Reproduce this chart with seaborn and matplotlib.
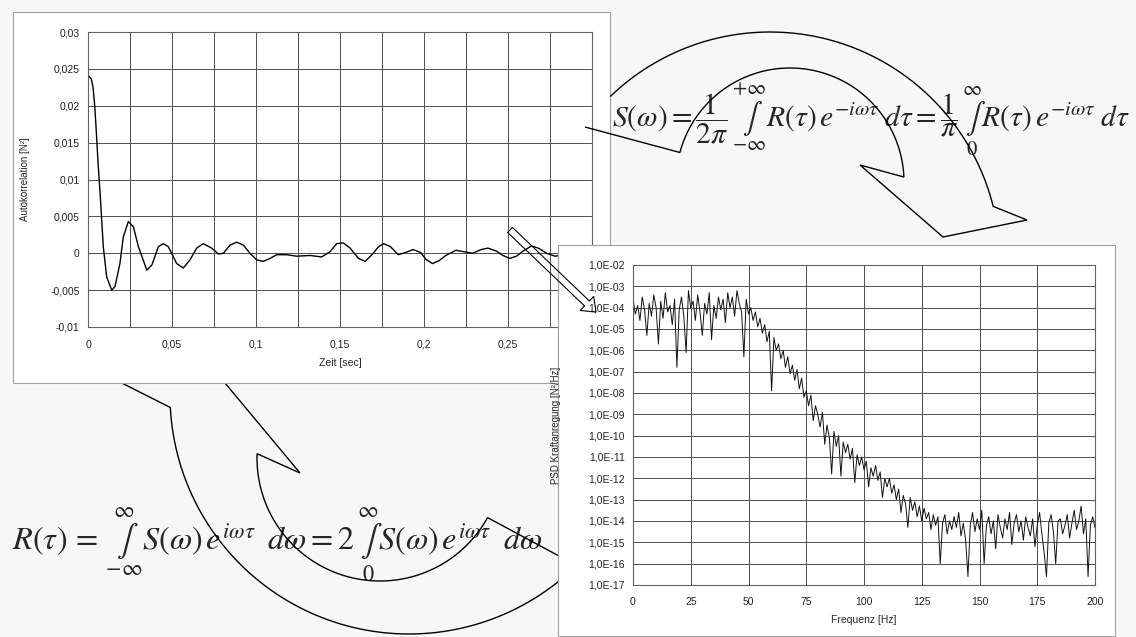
import numpy as np
import matplotlib
matplotlib.use('Agg')
import matplotlib.pyplot as plt
import seaborn as sns
from matplotlib.patches import Rectangle, Polygon, FancyArrowPatch
from matplotlib.ticker import MultipleLocator, FuncFormatter, NullLocator

# autocorrelation R(tau)
lag_sec = [0.0, 0.002, 0.003, 0.004, 0.005, 0.006, 0.0071, 0.0091, 0.0111, 0.0141,
           0.0161, 0.019, 0.021, 0.024, 0.027, 0.030, 0.035, 0.038, 0.0419, 0.0448,
           0.0478, 0.0528, 0.0567, 0.0607, 0.0647, 0.0686, 0.0736, 0.0776, 0.0806, 0.0845,
           0.0885, 0.0925, 0.0964, 0.1004, 0.1043, 0.1083, 0.1123, 0.1183, 0.1242, 0.1321,
           0.1391, 0.144, 0.148, 0.152, 0.156, 0.161, 0.165, 0.169, 0.173, 0.176,
           0.180, 0.1847, 0.189, 0.1935, 0.198, 0.201, 0.205, 0.209, 0.213, 0.219,
           0.224, 0.229, 0.234, 0.238, 0.243, 0.247, 0.251, 0.255, 0.259, 0.264,
           0.268, 0.273, 0.278, 0.283, 0.290, 0.300]
autocorr = [0.0242, 0.0236, 0.0225, 0.0200, 0.0163, 0.0122, 0.0085, 0.0009, -0.0032, -0.0050,
            -0.0045, -0.0014, 0.0022, 0.0043, 0.0036, 0.0009, -0.0023, -0.0016, 0.0009, 0.0013,
            0.0009, -0.0014, -0.0020, -0.0009, 0.0007, 0.0013, 0.0007, -0.0001, 0.0000, 0.0011,
            0.0015, 0.0011, 0.0000, -0.0009, -0.0011, -0.0007, -0.0002, -0.0002, -0.0004, -0.0003,
            -0.0005, 0.0002, 0.0013, 0.0014, 0.0007, -0.0007, -0.0011, -0.0002, 0.0009, 0.0013,
            0.0009, -0.0002, 0.0001, 0.0005, 0.0001, -0.0008, -0.0014, -0.0010, -0.0003, 0.0004,
            0.0002, 0.0000, 0.0005, 0.0007, 0.0003, -0.0003, -0.0007, -0.0004, 0.0003, 0.0010,
            0.0007, 0.0000, -0.0004, -0.0002, 0.0004, 0.0000]
lag_ticks = [0.0, 0.05, 0.1, 0.15, 0.2, 0.25]

# PSD, 1 Hz steps, stored as log10 exponents
freq_hz = list(range(0, 201))
psd_exp = [-3.6, -4.3, -3.9, -4.6, -3.5, -4.1, -5.3, -3.8, -4.4, -3.4,
           -4.0, -5.7, -3.7, -4.5, -3.3, -4.2, -3.9, -4.8, -3.6, -6.8,
           -4.1, -3.5, -4.4, -6.1, -3.2, -4.0, -3.7, -4.6, -3.4, -4.2,
           -5.3, -3.8, -4.3, -3.3, -5.5, -3.9, -4.5, -3.5, -4.1, -3.6,
           -4.7, -3.3, -4.0, -3.5, -4.4, -3.2, -3.8, -4.2, -6.3, -3.6,
           -4.3, -4.0, -4.6, -4.2, -4.9, -4.5, -5.2, -4.8, -5.6, -5.1,
           -7.9, -5.4, -6.0, -5.7, -6.4, -6.0, -6.8, -6.3, -7.1, -6.7,
           -7.4, -6.9, -7.8, -7.3, -8.2, -7.9, -8.6, -8.1, -9.3, -8.6,
           -9.0, -9.6, -8.9, -10.4, -9.5, -10.1, -11.8, -9.8, -10.5, -10.0,
           -11.9, -10.3, -10.8, -10.4, -11.1, -10.6, -12.2, -10.9, -11.4, -11.0,
           -11.6, -11.2, -12.4, -11.5, -11.9, -11.4, -12.1, -11.7, -12.9, -12.0,
           -12.4, -12.0, -12.7, -12.3, -13.0, -12.5, -13.6, -12.8, -13.2, -14.3,
           -12.9, -13.5, -13.1, -13.8, -13.3, -14.0, -13.4, -13.9, -13.6, -14.4,
           -13.7, -14.2, -13.8, -16.0, -14.1, -13.7, -14.6, -14.0, -14.4, -13.8,
           -14.3, -13.6, -14.7, -14.1, -14.9, -16.6, -14.2, -13.6, -14.5, -13.9,
           -14.4, -13.5, -16.0, -14.2, -13.8, -14.6, -14.0, -15.3, -13.7, -14.3,
           -14.8, -13.9, -14.4, -13.6, -15.1, -14.1, -13.7, -14.5, -14.0, -14.9,
           -13.8, -14.3, -14.7, -13.9, -15.2, -14.2, -13.6, -14.6, -15.5, -16.6,
           -14.1, -13.7, -14.5, -16.0, -14.0, -13.9, -14.6, -14.2, -13.7, -14.8,
           -14.1, -13.5, -14.4, -14.0, -13.3, -14.6, -13.9, -16.6, -14.2, -13.8,
           -14.3]
psd = [10.0 ** e for e in psd_exp]
psd_decades = list(range(2, 18))

W, H = 1136, 637


def fx(x):
    return x / W


def fy(y):
    return 1 - y / H


def to_fig(pts):
    return [(fx(x), fy(y)) for x, y in pts]


def arc(cx, cy, r, a0, a1, n=80):
    a = np.radians(np.linspace(a0, a1, n))
    return list(zip(cx + r * np.cos(a), cy + r * np.sin(a)))


def panel(x0, y0, x1, y1, z):
    fig.patches.append(Rectangle((fx(x0), fy(y1)), fx(x1) - fx(x0), fy(y0) - fy(y1),
                                 transform=fig.transFigure, facecolor='white',
                                 edgecolor='#a0a0a0', lw=0.8, zorder=z))


def outline(pts, z, closed=True):
    fig.patches.append(Polygon(to_fig(pts), closed=closed, fill=False, edgecolor='black',
                               lw=1.0, transform=fig.transFigure, zorder=z))


sns.set_style('white')
plt.rcParams['font.family'] = ['Liberation Sans', 'DejaVu Sans']
plt.rcParams['mathtext.fontset'] = 'stix'

fig = plt.figure(figsize=(11.36, 6.37), dpi=100, facecolor='#f7f7f7')

# big curved arrows (hollow)
bottom_arrow = (arc(409, 395, 239, 45, 177) + [(100, 372), (185, 335), (300, 473)]
                + arc(380, 458, 123, 182, 29) + [(600, 578)])
outline(bottom_arrow, 1)

top_arrow = (arc(770, 262, 230, -134, -14) + [(1027, 220), (943, 237), (860, 165)]
             + arc(790, 182, 114, -2.5, -165) + [(585, 127)])
outline(top_arrow, 3.5, closed=False)

# formulas
fig.text(fx(612), fy(120), r'$S(\omega)=\dfrac{1}{2\pi}\,\underset{-\infty}{\overset{+\infty}{\int}}'
         r'R(\tau)\,e^{-i\omega\tau}\;d\tau=\dfrac{1}{\pi}\,\underset{0}{\overset{\infty}{\int}}'
         r'R(\tau)\,e^{-i\omega\tau}\;d\tau$',
         fontsize=21.3, ha='left', va='center', zorder=0.5)
fig.text(fx(12), fy(545), r'$R(\tau)\,=\,\underset{-\infty}{\overset{\infty}{\int}}'
         r'S(\omega)\,e^{i\omega\tau}\;\;d\omega=2\,\underset{0}{\overset{\infty}{\int}}'
         r'S(\omega)\,e^{i\omega\tau}\;\;d\omega$',
         fontsize=23.2, ha='left', va='center', zorder=0.5)

# left chart: autocorrelation
panel(13, 12, 610, 383, 2)
ax1 = fig.add_axes([fx(88), fy(327), fx(592) - fx(88), fy(32) - fy(327)], zorder=3)
sns.lineplot(x=lag_sec, y=autocorr, ax=ax1, color='black', lw=1.0, estimator=None, sort=False)
ax1.set_xlim(0, 0.3)
ax1.set_ylim(-0.01, 0.03)
comma = FuncFormatter(lambda v, p: ('%g' % round(v, 6)).replace('.', ','))
ax1.set_xticks(lag_ticks)
ax1.xaxis.set_minor_locator(MultipleLocator(0.025))
ax1.yaxis.set_major_locator(MultipleLocator(0.005))
ax1.xaxis.set_major_formatter(comma)
ax1.yaxis.set_major_formatter(comma)
ax1.grid(True, which='both', axis='x', color='#505050', lw=0.7)
ax1.grid(True, which='major', axis='y', color='#505050', lw=0.7)
ax1.tick_params(axis='both', which='both', length=0, labelsize=7.5, colors='#222222')
ax1.tick_params(axis='x', pad=9)
ax1.tick_params(axis='y', pad=6)
ax1.set_xlabel('Zeit [sec]', fontsize=7.5)
ax1.set_ylabel('Autokorrelation [N²]', fontsize=7)
ax1.xaxis.set_label_coords(0.5, -0.105)
ax1.yaxis.set_label_coords(-0.115, 0.5)
for s in ax1.spines.values():
    s.set_color('#606060')
    s.set_linewidth(0.8)

# right chart: PSD
panel(558, 245, 1115, 636, 5)
ax2 = fig.add_axes([fx(633), fy(585), fx(1095) - fx(633), fy(265) - fy(585)], zorder=6)
sns.lineplot(x=freq_hz, y=psd, ax=ax2, color='#111111', lw=0.7, estimator=None)
ax2.set_yscale('log')
ax2.set_xlim(0, 200)
ax2.set_ylim(1e-17, 1e-2)
ax2.set_yticks([10.0 ** -k for k in psd_decades])
ax2.yaxis.set_minor_locator(NullLocator())
ax2.yaxis.set_major_formatter(FuncFormatter(lambda v, p: '1,0E-%02d' % int(round(-np.log10(v)))))
ax2.xaxis.set_major_locator(MultipleLocator(25))
ax2.grid(True, which='major', color='#505050', lw=0.7)
ax2.tick_params(axis='both', which='both', length=0, labelsize=7.5, colors='#222222')
ax2.tick_params(axis='x', pad=8.5)
ax2.tick_params(axis='y', pad=6)
ax2.set_xlabel('Frequenz [Hz]', fontsize=7.5)
ax2.set_ylabel('PSD Kraftanregung [N²/Hz]', fontsize=7)
ax2.xaxis.set_label_coords(0.5, -0.094)
ax2.yaxis.set_label_coords(-0.156, 0.5)
for s in ax2.spines.values():
    s.set_color('#606060')
    s.set_linewidth(0.8)

# small arrow between the two charts
small = FancyArrowPatch((fx(508), fy(228)), (fx(598), fy(314)), transform=fig.transFigure,
                        arrowstyle='simple,head_length=9,head_width=14,tail_width=5',
                        mutation_scale=1, facecolor='none', edgecolor='black', lw=0.8, zorder=10)
fig.patches.append(small)

fig.savefig('out.png', dpi=100, facecolor=fig.get_facecolor())
